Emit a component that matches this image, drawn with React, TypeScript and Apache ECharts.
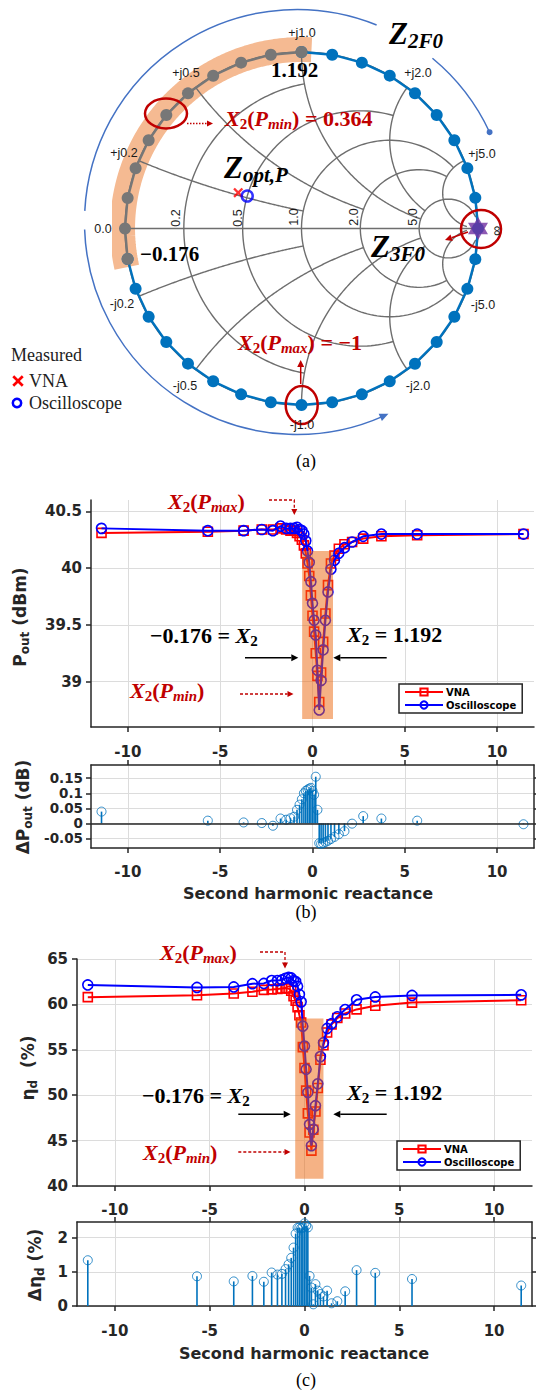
import React, { useEffect, useRef } from "react";
import * as echarts from "echarts";

// ---------- data ----------
const reactance = [-11.43, -5.671, -3.732, -2.747, -2.145, -1.732, -1.428, -1.192, -1.0, -0.839, -0.7, -0.577, -0.466, -0.364, -0.268, -0.176, -0.087, 0, 0.087, 0.176, 0.268, 0.364, 0.466, 0.577, 0.7, 0.839, 1.0, 1.192, 1.428, 1.732, 2.145, 2.747, 3.732, 5.671, 11.43];
const poutVNA = [40.31, 40.32, 40.33, 40.34, 40.34, 40.35, 40.34, 40.33, 40.33, 40.31, 40.28, 40.25, 40.2, 40.13, 40.04, 39.93, 39.76, 39.58, 39.44, 39.25, 39.05, 38.82, 39.08, 39.35, 39.6, 39.85, 40.04, 40.11, 40.17, 40.21, 40.23, 40.26, 40.28, 40.29, 40.3];
const poutOsc = [40.35, 40.33, 40.33, 40.34, 40.33, 40.37, 40.35, 40.35, 40.35, 40.36, 40.34, 40.33, 40.3, 40.24, 40.15, 40.05, 39.88, 39.69, 39.54, 39.41, 39.1, 38.75, 39.01, 39.28, 39.54, 39.79, 39.99, 40.07, 40.13, 40.18, 40.23, 40.28, 40.3, 40.3, 40.3];
const dPout = [0.039, 0.009, 0.003, 0.001, -0.008, 0.016, 0.012, 0.017, 0.022, 0.045, 0.062, 0.08, 0.1, 0.108, 0.112, 0.115, 0.118, 0.108, 0.095, 0.155, 0.045, -0.066, -0.068, -0.066, -0.062, -0.058, -0.052, -0.045, -0.036, -0.026, -0.001, 0.024, 0.016, 0.009, -0.003];
const effVNA = [60.8, 61.0, 61.2, 61.4, 61.6, 61.65, 61.7, 61.75, 61.8, 61.75, 61.5, 60.9, 60.4, 59.7, 58.8, 58.0, 55.3, 53.0, 50.5, 48.0, 45.9, 43.9, 46.2, 48.2, 50.8, 53.9, 55.5, 56.9, 57.8, 58.5, 59.0, 59.45, 59.85, 60.2, 60.45];
const effOsc = [62.14, 61.87, 61.92, 62.28, 62.31, 62.63, 62.62, 62.69, 62.88, 62.97, 62.91, 62.61, 62.52, 61.99, 61.1, 60.28, 57.6, 55.42, 52.85, 50.3, 46.78, 44.44, 46.25, 48.84, 51.25, 54.25, 55.78, 57.35, 57.88, 58.64, 59.43, 60.5, 60.82, 60.99, 61.05];
const dEff = [1.34, 0.87, 0.72, 0.88, 0.71, 0.98, 0.92, 0.94, 1.08, 1.22, 1.41, 1.71, 2.12, 2.29, 2.3, 2.28, 2.3, 2.42, 2.35, 2.3, 0.88, 0.54, 0.05, 0.64, 0.45, 0.35, 0.28, 0.45, 0.08, 0.14, 0.43, 1.05, 0.97, 0.79, 0.6];

const xTicks = [-10, -5, 0, 5, 10];
const poutTicks = [39, 39.5, 40, 40.5];
const dPoutTicks = [-0.05, 0, 0.05, 0.1, 0.15];
const effTicks = [40, 45, 50, 55, 60, 65];
const dEffTicks = [0, 1, 2];

const smithValues = [0.2, 0.5, 1, 2, 5];
const smithEnds = [1, 2, 5, 5, 30];
const grayFirst = 16; // -0.087
const grayLast = 26; // 1.0
const zoptVNA = [0.44, 0.215];
const zoptOsc = [0.5, 0.211];
const bandB = [-0.56, 1.11, 38.67, 40.15];
const bandC = [-0.49, 1.0, 40.8, 58.46];

// ---------- style ----------
const FONT = "DejaVu Sans";
const AX = "#262626";
const DR = "#C00000";
const BLUE = "#0072BD";
const GRID = "#DCDCDC";

function gamma(r: number, x: number): number[] {
  if (!isFinite(x) || !isFinite(r)) return [1, 0];
  const d = (r + 1) * (r + 1) + x * x;
  return [(r * r - 1 + x * x) / d, (2 * x) / d];
}

function smithLines() {
  const out: any[] = [];
  const N = 160;
  smithValues.forEach((v, i) => {
    const a = Math.atan(smithEnds[i]);
    const c: number[][] = [];
    for (let k = 0; k <= N; k++) c.push(gamma(v, Math.tan(-a + (2 * a * k) / N)));
    out.push({ coords: c });
    [v, -v].forEach((xv) => {
      const p: number[][] = [];
      for (let k = 0; k <= N; k++) p.push(gamma(Math.tan((a * k) / N), xv));
      out.push({ coords: p });
    });
  });
  const circ: number[][] = [];
  for (let t = 0; t <= 360; t += 2) circ.push([Math.cos((t * Math.PI) / 180), Math.sin((t * Math.PI) / 180)]);
  out.push({ coords: circ });
  out.push({ coords: [[-1, 0], [1, 0]] });
  return out;
}

function bandArc() {
  const p: number[][] = [];
  for (let t = 192.5; t >= 86.8; t -= 1) p.push([1.014 * Math.cos((t * Math.PI) / 180), 1.014 * Math.sin((t * Math.PI) / 180)]);
  p.push([1.014 * Math.cos((86.8 * Math.PI) / 180), 1.014 * Math.sin((86.8 * Math.PI) / 180)]);
  return p;
}

function mathRich(size: number, color: string) {
  const LH = Math.round(size * 1.2);
  const shift = size * 0.34;
  const LS = Math.max(2, LH - 2 * shift);
  const base = { fontFamily: "Liberation Serif", fontWeight: "bold", fill: color, color };
  const sub = Math.round(size * 0.68);
  return {
    i: { ...base, fontStyle: "italic", fontSize: size, lineHeight: LH },
    n: { ...base, fontStyle: "normal", fontSize: size, lineHeight: LH },
    s: { ...base, fontStyle: "normal", fontSize: sub, lineHeight: LS, verticalAlign: "bottom" },
    si: { ...base, fontStyle: "italic", fontSize: sub, lineHeight: LS, verticalAlign: "bottom" },
  };
}

function rtext(x: number, y: number, text: string, rich: any, align = "left", rotation = 0) {
  return { type: "text", x, y, z: 60, rotation, silent: true, style: { text, rich, align, verticalAlign: "middle" } };
}

function ptext(x: number, y: number, text: string, o: any = {}) {
  return {
    type: "text", x, y, z: 60, rotation: o.rot || 0, silent: true,
    style: {
      text, fill: o.color || "#1a1a1a", fontFamily: o.family || "Liberation Sans", fontSize: o.size || 12.5,
      fontWeight: o.weight || "normal", fontStyle: o.style || "normal", align: o.align || "center", verticalAlign: "middle",
    },
  };
}

function arrow(pts: number[][], color: string, o: any = {}) {
  const w = o.width ?? 1.5;
  const hl = o.head ?? 7;
  const hw = o.hw ?? 3.5;
  const n = pts.length;
  const [x2, y2] = pts[n - 1];
  const [x1, y1] = pts[n - 2];
  const ang = Math.atan2(y2 - y1, x2 - x1);
  const bx = x2 - hl * Math.cos(ang);
  const by = y2 - hl * Math.sin(ang);
  const linePts = [...pts.slice(0, n - 1), [bx, by]];
  const head = [[x2, y2], [bx + hw * Math.sin(ang), by - hw * Math.cos(ang)], [bx - hw * Math.sin(ang), by + hw * Math.cos(ang)]];
  const els: any[] = [];
  if (!o.headOnly) els.push({ type: "polyline", z: 55, silent: true, shape: { points: linePts }, style: { stroke: color, lineWidth: w, lineDash: o.dash || null, fill: null } });
  els.push({ type: "polygon", z: 55, silent: true, shape: { points: head }, style: { fill: color } });
  return els;
}

const deg = (d: number) => (d * Math.PI) / 180;
const ARC = { cx: 297, cy: 222, r: 212.5 };
const onArc = (d: number) => [ARC.cx + ARC.r * Math.cos(deg(d)), ARC.cy + ARC.r * Math.sin(deg(d))];

const labelStyle = { fontFamily: FONT, fontWeight: "bold", fontSize: 15, color: AX };

function xAxisCfg(gridIndex: number, position: string, showLabel: boolean, showSplit: boolean, margin = 16) {
  return {
    type: "value", gridIndex, position, min: -12, max: 12,
    axisLine: { show: true, onZero: false, lineStyle: { color: AX, width: 1.5 } },
    axisTick: { show: true, inside: false, length: 5, lineStyle: { color: AX, width: 1.5 }, customValues: xTicks },
    axisLabel: { show: showLabel, customValues: xTicks, margin, ...labelStyle },
    splitLine: { show: showSplit, lineStyle: { color: GRID, width: 1 } },
  };
}

function yAxisCfg(gridIndex: number, position: string, min: number, max: number, ticks: number[], showLabel: boolean, showSplit: boolean, lab: any = {}) {
  return {
    type: "value", gridIndex, position, min, max,
    axisLine: { show: true, onZero: false, lineStyle: { color: AX, width: 1.5 } },
    axisTick: { show: true, inside: false, length: 5, lineStyle: { color: AX, width: 1.5 }, customValues: ticks },
    axisLabel: { show: showLabel, customValues: ticks, margin: 9, ...labelStyle, ...lab },
    splitLine: { show: showSplit, lineStyle: { color: GRID, width: 1 } },
  };
}

const pair = (ys: number[]) => reactance.map((x, i) => [x, ys[i]]);

function lineSeries(name: string, xi: number, yi: number, ys: number[], color: string, symbol: string) {
  return {
    name, type: "line", xAxisIndex: xi, yAxisIndex: yi, data: pair(ys), symbol, symbolSize: symbol === "rect" ? 9 : 10,
    lineStyle: { color, width: 2 }, itemStyle: { color: "rgba(255,255,255,0)", borderColor: color, borderWidth: 1.6 },
    z: symbol === "rect" ? 3 : 4, silent: true, animation: false,
  };
}

function bandSeries(xi: number, yi: number, b: number[]) {
  return {
    name: "band", type: "line", xAxisIndex: xi, yAxisIndex: yi, data: [], silent: true, z: 10,
    markArea: { silent: true, z: 10, label: { show: false }, itemStyle: { color: "rgba(235,102,12,0.5)" }, data: [[{ coord: [b[0], b[2]] }, { coord: [b[1], b[3]] }]] },
  };
}

function stemSeries(xi: number, yi: number, ys: number[], zeroLine: boolean) {
  const bar: any = {
    name: "stem", type: "bar", xAxisIndex: xi, yAxisIndex: yi, data: pair(ys), barWidth: 1.6, silent: true,
    itemStyle: { color: BLUE }, z: 3,
  };
  if (zeroLine) {
    bar.markLine = { silent: true, symbol: ["none", "none"], label: { show: false }, lineStyle: { color: AX, width: 1.5, type: "solid" }, data: [{ yAxis: 0 }] };
  }
  const heads = {
    name: "stemHead", type: "scatter", xAxisIndex: xi, yAxisIndex: yi, data: pair(ys), symbol: "circle", symbolSize: 9, silent: true,
    itemStyle: { color: "rgba(255,255,255,0)", borderColor: BLUE, borderWidth: 1 }, z: 4,
  };
  return [bar, heads];
}

const HEX = "path://M0,-10L2.887,-5L8.66,-5L5.774,0L8.66,5L2.887,5L0,10L-2.887,5L-8.66,5L-5.774,0L-8.66,-5L-2.887,-5Z";
const XMARK = "path://M-4,-6L0,-2L4,-6L6,-4L2,0L6,4L4,6L0,2L-4,6L-6,4L-2,0L-6,-4Z";

function legendCfg(left: number, top: number) {
  return {
    data: ["VNA", "Oscilloscope"], left, top, orient: "vertical", itemWidth: 38, itemHeight: 9, itemGap: 3,
    padding: [3, 6, 3, 5], borderColor: AX, borderWidth: 1.5, backgroundColor: "#fff", selectedMode: false, z: 30,
    textStyle: { fontFamily: FONT, fontWeight: "bold", fontSize: 10, color: "#000", padding: [0, 0, 0, -2] },
  };
}

function buildOption() {
  const blueOrder = [...reactance.slice(grayLast), Infinity, ...reactance.slice(0, grayFirst + 1)];
  const grayOrder = reactance.slice(grayFirst, grayLast + 1);

  const R22 = mathRich(22, DR);
  const K22 = mathRich(22, "#000");
  const K21 = mathRich(21, "#000");
  const Z30 = (() => {
    const base = { fontFamily: "Liberation Serif", fontWeight: "bold", fontStyle: "italic", fill: "#000", color: "#000" };
    return {
      z: { ...base, fontSize: 31, lineHeight: 36 },
      s: { ...base, fontSize: 21, lineHeight: 14, verticalAlign: "bottom" },
    };
  })();
  const ylab = (main: number, sub: number) => {
    const base = { fontFamily: FONT, fontWeight: "bold", fill: AX, color: AX };
    return {
      a: { ...base, fontSize: main, lineHeight: 22 },
      s: { ...base, fontSize: sub, lineHeight: 10, verticalAlign: "bottom" },
    };
  };

  const graphics: any[] = [
    // trajectory arcs around Smith chart
    { type: "arc", z: 5, silent: true, shape: { cx: ARC.cx, cy: ARC.cy, r: ARC.r, startAngle: deg(183), endAngle: deg(292) }, style: { stroke: "#4472C4", lineWidth: 1.5, fill: null } },
    { type: "arc", z: 5, silent: true, shape: { cx: ARC.cx, cy: ARC.cy, r: ARC.r, startAngle: deg(309.6), endAngle: deg(335) }, style: { stroke: "#4472C4", lineWidth: 1.5, fill: null } },
    { type: "circle", z: 5, silent: true, shape: { cx: onArc(335)[0], cy: onArc(335)[1], r: 3 }, style: { fill: "#4472C4" } },
    { type: "arc", z: 5, silent: true, shape: { cx: ARC.cx, cy: ARC.cy, r: ARC.r, startAngle: deg(66), endAngle: deg(178) }, style: { stroke: "#4472C4", lineWidth: 1.5, fill: null } },
    ...arrow([onArc(67.5), onArc(64.5)], "#4472C4", { headOnly: true, head: 9, hw: 4 }),

    // Smith labels
    ptext(302, 33, "+j1.0"), ptext(186, 73, "+j0.5"), ptext(418, 73, "+j2.0"), ptext(124, 153, "+j0.2"), ptext(482, 154, "+j5.0"),
    ptext(103, 229, "0.0"), ptext(496, 231, "∞", { rot: Math.PI / 2, size: 14 }),
    ptext(122, 304, "-j0.2"), ptext(185, 386, "-j0.5"), ptext(302, 425, "-j1.0"), ptext(418, 386, "-j2.0"), ptext(483, 305, "-j5.0"),
    ptext(176, 218, "0.2", { rot: Math.PI / 2 }), ptext(237.5, 218, "0.5", { rot: Math.PI / 2 }), ptext(294, 217, "1.0", { rot: Math.PI / 2 }),
    ptext(354, 217, "2.0", { rot: Math.PI / 2 }), ptext(412.5, 217, "5.0", { rot: Math.PI / 2 }),

    // Smith annotations
    { type: "ellipse", z: 56, silent: true, shape: { cx: 166, cy: 113.5, rx: 21, ry: 15 }, style: { stroke: DR, lineWidth: 2.5, fill: null } },
    { type: "ellipse", z: 56, silent: true, shape: { cx: 481, cy: 229, rx: 20, ry: 19 }, style: { stroke: DR, lineWidth: 2.5, fill: null } },
    { type: "ellipse", z: 56, silent: true, shape: { cx: 301.7, cy: 405, rx: 16, ry: 19 }, style: { stroke: DR, lineWidth: 2.5, fill: null } },
    ...arrow([[187, 123.5], [213, 123.5]], DR, { dash: [1.5, 1.5], width: 1.5, head: 6, hw: 3 }),
    ...arrow([[300.7, 384], [300.7, 360]], DR, { width: 1.5, head: 7, hw: 3.5 }),
    ...arrow([[468, 232], [445, 240]], DR, { width: 1.5, head: 7, hw: 3.5 }),
    rtext(225, 118, "{i|X}{s|2}{n|(}{i|P}{si|min}{n|) = 0.364}", R22),
    rtext(238, 342, "{i|X}{s|2}{n|(}{i|P}{si|max}{n|) = −1}", R22),
    rtext(271, 70, "{n|1.192}", K21),
    rtext(140, 254, "{n|−0.176}", K21),
    rtext(224, 167, "{z|Z}{s|opt,P}", Z30),
    rtext(389, 33, "{z|Z}{s|2F0}", Z30),
    rtext(371, 246, "{z|Z}{s|3F0}", Z30),

    // Measured legend
    ptext(11, 355, "Measured", { family: "Liberation Serif", size: 18, align: "left", color: "#222" }),
    { type: "polygon", z: 60, silent: true, shape: { points: [[-4, -6], [0, -2], [4, -6], [6, -4], [2, 0], [6, 4], [4, 6], [0, 2], [-4, 6], [-6, 4], [-2, 0], [-6, -4]].map(([a, b]) => [18 + a * 0.95, 381 + b * 0.95]) }, style: { fill: "#FF0000" } },
    ptext(29, 381, "VNA", { family: "Liberation Serif", size: 18, align: "left", color: "#222" }),
    { type: "circle", z: 60, silent: true, shape: { cx: 17, cy: 403, r: 4.2 }, style: { stroke: "#0000FF", lineWidth: 2.5, fill: null } },
    ptext(29, 403, "Oscilloscope", { family: "Liberation Serif", size: 18, align: "left", color: "#222" }),
    ptext(306, 461, "(a)", { family: "Liberation Serif", size: 18, color: "#000" }),

    // panel b
    rtext(20, 617, "{a|P}{s|out}{a| (dBm)}", ylab(17, 12), "center", Math.PI / 2),
    rtext(23, 807, "{a|ΔP}{s|out}{a| (dB)}", ylab(17, 12), "center", Math.PI / 2),
    rtext(168, 501, "{i|X}{s|2}{n|(}{i|P}{si|max}{n|)}", R22),
    ...arrow([[269, 500], [294.3, 500], [294.3, 515]], DR, { dash: [3, 2], width: 1.3, head: 6, hw: 3 }),
    rtext(150, 635, "{n|−0.176 = }{i|X}{s|2}", K22),
    rtext(347, 634, "{i|X}{s|2}{n| = 1.192}", K22),
    ...arrow([[245, 657.7], [298.3, 657.7]], "#000", { width: 1.5 }),
    ...arrow([[386.7, 657.7], [333.3, 657.7]], "#000", { width: 1.5 }),
    rtext(130, 690, "{i|X}{s|2}{n|(}{i|P}{si|min}{n|)}", R22),
    ...arrow([[240, 694], [293.5, 694]], DR, { dash: [3, 2], width: 1.3, head: 6, hw: 3 }),
    ptext(308, 893, "Second harmonic reactance", { family: FONT, weight: "bold", size: 16, color: AX }),
    ptext(306, 912, "(b)", { family: "Liberation Serif", size: 18, color: "#000" }),

    // panel c
    rtext(28, 1068, "{a|η}{s|d}{a|  (%)}", ylab(17, 12), "center", Math.PI / 2),
    rtext(35, 1265, "{a|Δη}{s|d}{a| (%)}", ylab(17, 12), "center", Math.PI / 2),
    rtext(160, 952, "{i|X}{s|2}{n|(}{i|P}{si|max}{n|)}", R22),
    ...arrow([[260, 952], [285, 952], [285, 968.5]], DR, { dash: [3, 2], width: 1.3, head: 6, hw: 3 }),
    rtext(142, 1095, "{n|−0.176 = }{i|X}{s|2}", K22),
    rtext(347, 1092, "{i|X}{s|2}{n| = 1.192}", K22),
    ...arrow([[238.3, 1114.3], [290.7, 1114.3]], "#000", { width: 1.5 }),
    ...arrow([[386.7, 1114.3], [333.3, 1114.3]], "#000", { width: 1.5 }),
    rtext(143, 1152, "{i|X}{s|2}{n|(}{i|P}{si|min}{n|)}", R22),
    ...arrow([[238.3, 1152], [290.5, 1152]], DR, { dash: [3, 2], width: 1.3, head: 6, hw: 3 }),
    ptext(304, 1353, "Second harmonic reactance", { family: FONT, weight: "bold", size: 16, color: AX }),
    ptext(306, 1380, "(c)", { family: "Liberation Serif", size: 18, color: "#000" }),
  ];

  return {
    animation: false,
    backgroundColor: "#fff",
    textStyle: { fontFamily: FONT },
    grid: [
      { left: 125, top: 52, width: 353, height: 353, outerBoundsMode: "none", containLabel: false },
      { left: 91, top: 500, width: 443, height: 227, outerBoundsMode: "none", containLabel: false },
      { left: 91, top: 765, width: 443, height: 83, outerBoundsMode: "none", containLabel: false },
      { left: 77, top: 959, width: 455, height: 227, outerBoundsMode: "none", containLabel: false },
      { left: 77, top: 1222, width: 455, height: 84, outerBoundsMode: "none", containLabel: false },
    ],
    xAxis: [
      { type: "value", gridIndex: 0, min: -1, max: 1, show: false },
      xAxisCfg(1, "bottom", true, true, 17),
      xAxisCfg(2, "bottom", true, true, 16),
      xAxisCfg(2, "top", false, false),
      xAxisCfg(3, "bottom", true, true, 16),
      xAxisCfg(4, "bottom", true, true, 17),
      xAxisCfg(4, "top", false, false),
    ],
    yAxis: [
      { type: "value", gridIndex: 0, min: -1, max: 1, show: false },
      yAxisCfg(1, "left", 38.6, 40.6, poutTicks, true, true),
      yAxisCfg(2, "left", -0.082, 0.194, dPoutTicks, true, true, { fontSize: 13.5, lineHeight: 12, margin: 8 }),
      yAxisCfg(2, "right", -0.082, 0.194, dPoutTicks, false, false),
      yAxisCfg(3, "left", 40, 65, effTicks, true, true),
      yAxisCfg(4, "left", 0, 2.46, dEffTicks, true, true),
      yAxisCfg(4, "right", 0, 2.46, dEffTicks, false, false),
    ],
    legend: [legendCfg(399, 684), legendCfg(397, 1141)],
    series: [
      // Smith chart
      { name: "smithBand", type: "line", xAxisIndex: 0, yAxisIndex: 0, data: bandArc(), symbol: "none", clip: false, silent: true, z: 1,
        lineStyle: { color: "#F5BA92", width: 25, cap: "butt" } },
      { name: "smithGrid", type: "lines", coordinateSystem: "cartesian2d", xAxisIndex: 0, yAxisIndex: 0, polyline: true, silent: true, z: 2,
        lineStyle: { color: "#6E6E6E", width: 1.4, opacity: 1 }, data: smithLines() },
      { name: "Z2F0", type: "line", xAxisIndex: 0, yAxisIndex: 0, data: blueOrder.map((x) => gamma(0, x)), clip: false, silent: true, z: 3,
        symbol: "circle", symbolSize: 12, lineStyle: { color: BLUE, width: 2.4 }, itemStyle: { color: BLUE } },
      { name: "Z2F0sel", type: "line", xAxisIndex: 0, yAxisIndex: 0, data: grayOrder.map((x) => gamma(0, x)), clip: false, silent: true, z: 4,
        symbol: "circle", symbolSize: 12, lineStyle: { color: "#777777", width: 2.4 }, itemStyle: { color: "#777777" } },
      { name: "Z3F0", type: "scatter", xAxisIndex: 0, yAxisIndex: 0, data: [gamma(0, Infinity)], symbol: HEX, symbolSize: [20, 23], clip: false, silent: true, z: 5,
        itemStyle: { color: "#7030A0" } },
      { name: "ZoptVNA", type: "scatter", xAxisIndex: 0, yAxisIndex: 0, data: [gamma(zoptVNA[0], zoptVNA[1])], symbol: XMARK, symbolSize: 10, silent: true, z: 5,
        itemStyle: { color: "#FF0000" } },
      { name: "ZoptOsc", type: "scatter", xAxisIndex: 0, yAxisIndex: 0, data: [gamma(zoptOsc[0], zoptOsc[1])], symbol: "circle", symbolSize: 11, silent: true, z: 6,
        itemStyle: { color: "rgba(255,255,255,0)", borderColor: "#0000FF", borderWidth: 2.5 } },

      // panel b
      lineSeries("VNA", 1, 1, poutVNA, "#FF0000", "rect"),
      lineSeries("Oscilloscope", 1, 1, poutOsc, "#0000FF", "circle"),
      bandSeries(1, 1, bandB),
      ...stemSeries(2, 2, dPout, true),

      // panel c
      lineSeries("VNA", 4, 4, effVNA, "#FF0000", "rect"),
      lineSeries("Oscilloscope", 4, 4, effOsc, "#0000FF", "circle"),
      bandSeries(4, 4, bandC),
      ...stemSeries(5, 5, dEff, false),
    ],
    graphic: { elements: graphics },
  };
}

export default function App() {
  const ref = useRef<HTMLDivElement>(null);
  useEffect(() => {
    const chart = echarts.init(ref.current!, null, { renderer: "svg", width: 536, height: 1394 });
    chart.setOption(buildOption() as any);
    return () => chart.dispose();
  }, []);
  return <div ref={ref} style={{ position: "absolute", left: 0, top: 0, width: 536, height: 1394, background: "#fff" }} />;
}
